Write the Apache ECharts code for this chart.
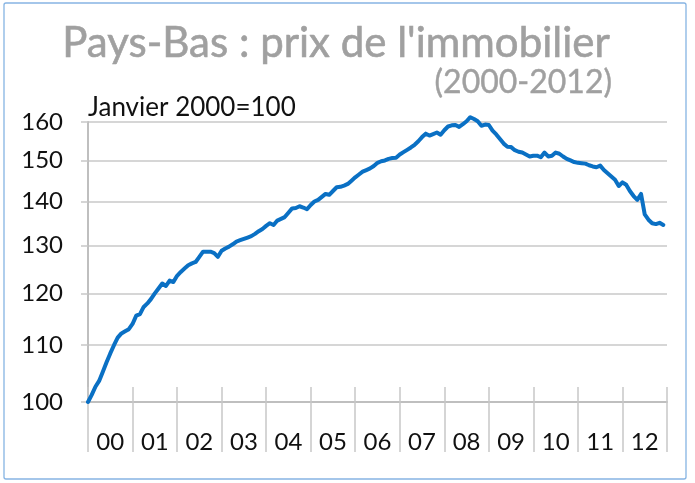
<!DOCTYPE html>
<html>
<head>
<meta charset="utf-8">
<script src="https://cdn.jsdelivr.net/npm/echarts@6/dist/echarts.min.js"></script>
<style>
html,body{margin:0;padding:0;background:#fff;}
#chart{width:695px;height:483px;}
</style>
</head>
<body>
<div id="chart"></div>
<script>
// Year tick labels (one per year, 2000-2012)
var yearLabels = ['00','01','02','03','04','05','06','07','08','09','10','11','12'];
// Y tick labels (log scale)
var yTicks = [100, 110, 120, 130, 140, 150, 160];
// Monthly house price index, Jan 2000 = 100 (Jan 2000 .. Dec 2012)
var prices2000 = [100.0,101.2,102.6,103.6,105.2,106.9,108.5,110.0,111.4,112.2,112.6,113.0];
var prices2001 = [114.0,115.6,115.9,117.3,118.0,118.9,120.0,121.0,122.0,121.5,122.6,122.3];
var prices2002 = [123.6,124.4,125.1,125.8,126.2,126.5,127.6,128.7,128.7,128.7,128.4,127.6];
var prices2003 = [128.9,129.4,129.8,130.3,130.9,131.2,131.5,131.8,132.1,132.6,133.2,133.7];
var prices2004 = [134.4,135.0,134.6,135.6,136.0,136.4,137.4,138.4,138.5,138.9,138.6,138.2];
var prices2005 = [139.2,140.0,140.4,141.1,141.8,141.6,142.5,143.4,143.5,143.8,144.2,145.0];
var prices2006 = [145.8,146.5,147.2,147.6,148.0,148.6,149.4,149.8,150.0,150.4,150.6,150.7];
var prices2007 = [151.5,152.1,152.7,153.3,154.0,154.9,156.0,156.9,156.4,156.8,157.2,156.6];
var prices2008 = [157.8,158.8,159.1,159.2,158.7,159.4,160.2,161.3,160.8,160.2,159.0,159.3];
var prices2009 = [159.2,157.7,156.7,155.5,154.3,153.5,153.4,152.6,152.2,152.0,151.5,151.0];
var prices2010 = [151.2,151.2,150.8,152.0,151.0,151.2,152.0,151.7,151.0,150.4,150.0,149.6];
var prices2011 = [149.4,149.3,149.2,148.8,148.5,148.3,148.7,147.6,146.8,146.0,145.2,143.7];
var prices2012 = [144.6,144.0,142.5,141.3,140.4,141.8,137.0,135.8,135.0,134.8,135.1,134.6];

var prices = [].concat(prices2000,prices2001,prices2002,prices2003,prices2004,prices2005,
  prices2006,prices2007,prices2008,prices2009,prices2010,prices2011,prices2012);

var nMonths = yearLabels.length * 12;
var lineData = prices.map(function (v, i) { return [i, Math.log(v)]; });
var yTickLog = yTicks.map(function (v) { return Math.log(v); });
var yearCenters = yearLabels.map(function (s, i) { return i * 12 + 6; });

var gridColor = '#c8c8c8';
var chart = echarts.init(document.getElementById('chart'), null, {renderer: 'canvas'});
chart.setOption({
  animation: false,
  backgroundColor: '#ffffff',
  grid: {left: 88, right: 28, top: 122, bottom: 81, containLabel: false},
  graphic: [
    {type: 'rect', shape: {x: 4, y: 3, width: 682, height: 476, r: 2},
     style: {fill: 'none', stroke: '#86b4e3', lineWidth: 1.3}, z: -1},
    {type: 'text', x: 336, y: 43,
     style: {text: "Pays-Bas : prix de l'immobilier", font: '42px Lato', fill: '#a0a0a0',
             stroke: '#a0a0a0', lineWidth: 0.6,
             textAlign: 'center', textVerticalAlign: 'middle'}},
    {type: 'text', x: 612, y: 83,
     style: {text: '(2000-2012)', font: '32px Lato', fill: '#a0a0a0',
             stroke: '#a0a0a0', lineWidth: 0.4,
             textAlign: 'right', textVerticalAlign: 'middle'}},
    {type: 'text', x: 88, y: 108,
     style: {text: 'Janvier 2000=100', font: '26px Lato', fill: '#111111',
             textAlign: 'left', textVerticalAlign: 'middle'}}
  ],
  xAxis: [
    {
      type: 'value', position: 'bottom', offset: 0,
      min: 0, max: nMonths, interval: 12,
      axisLine: {show: true, lineStyle: {color: '#bfbfbf', width: 2}},
      axisTick: {show: true, inside: false, length: 50, lineStyle: {color: gridColor, width: 1.5}},
      axisLabel: {
        show: true, margin: 28, customValues: yearCenters,
        fontFamily: 'Lato', fontSize: 24, color: '#111111',
        formatter: function (v) { return yearLabels[Math.round((v - 6) / 12)]; }
      },
      splitLine: {show: false}
    },
    {
      type: 'value', position: 'bottom', offset: 0,
      min: 0, max: nMonths, interval: 12,
      axisLine: {show: false},
      axisTick: {show: true, inside: true, length: 15, lineStyle: {color: gridColor, width: 1.5}},
      axisLabel: {show: false},
      splitLine: {show: false}
    }
  ],
  yAxis: {
    type: 'value',
    min: Math.log(yTicks[0]) - 1e-9,
    max: Math.log(yTicks[yTicks.length - 1]) + 1e-9,
    axisLine: {show: true, lineStyle: {color: '#bfbfbf', width: 2}},
    axisTick: {show: true, inside: false, length: 7, customValues: yTickLog,
               lineStyle: {color: gridColor, width: 1.5}},
    axisLabel: {
      show: true, margin: 25, customValues: yTickLog,
      fontFamily: 'Lato', fontSize: 24, color: '#111111',
      formatter: function (v) { return String(Math.round(Math.exp(v))); }
    },
    splitLine: {show: true, lineStyle: {color: gridColor, width: 1.5}}
  },
  series: [{
    type: 'line', xAxisIndex: 0, yAxisIndex: 0, clip: false,
    data: lineData, showSymbol: false, symbol: 'none',
    lineStyle: {color: '#0a70c4', width: 4, join: 'round', cap: 'round'},
    z: 5
  }]
});
</script>
</body>
</html>
